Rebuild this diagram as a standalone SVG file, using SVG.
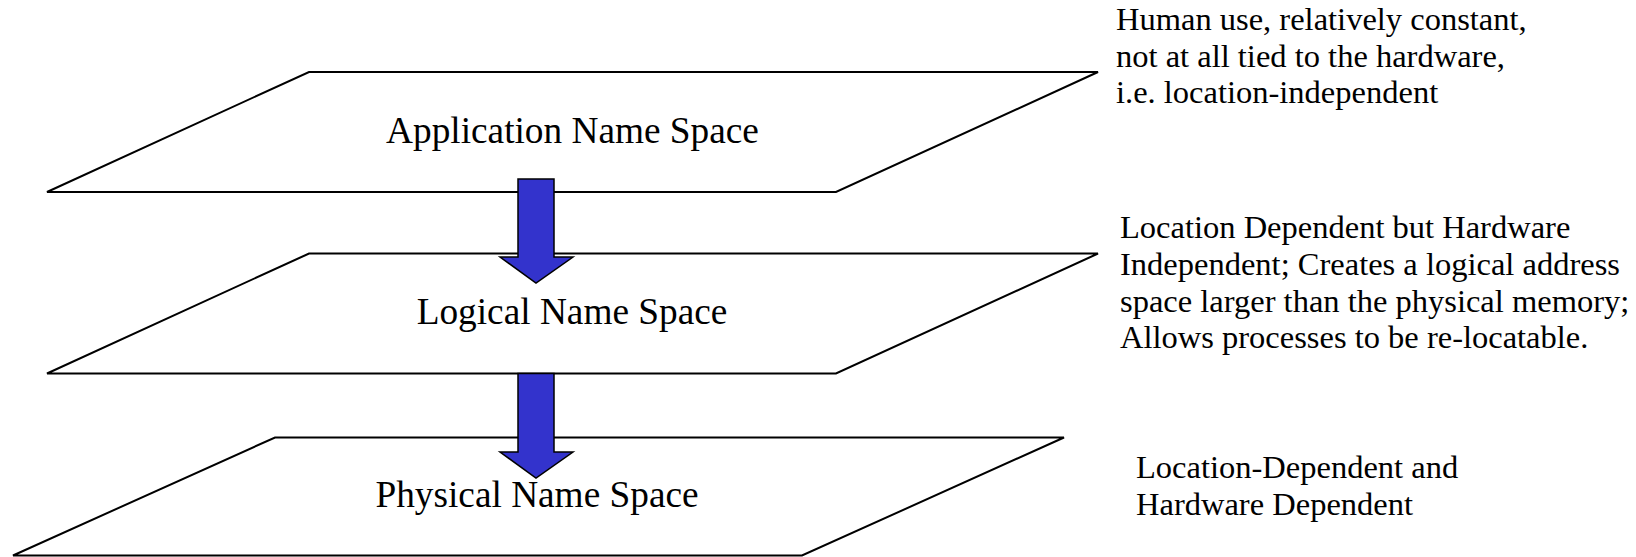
<svg xmlns="http://www.w3.org/2000/svg" width="1636" height="557" viewBox="0 0 1636 557">
<style>
.plane{fill:#ffffff;stroke:#000000;stroke-width:2;stroke-linejoin:miter}
.arrow{fill:#3333cc;stroke:#000000;stroke-width:1.5;stroke-linejoin:miter}
.name{font-family:"Liberation Serif","Times New Roman",serif;font-size:37.3px;fill:#000000;text-anchor:middle}
.note{font-family:"Liberation Serif","Times New Roman",serif;font-size:32.5px;fill:#000000}
</style>
<rect x="0" y="0" width="1636" height="557" fill="#ffffff"/>
<g id="node-application">
<polygon class="plane" points="309,72 1098,72 836,192 47,192"/>
<text class="name" x="572.5" y="143">Application Name Space</text>
</g>
<g id="node-logical">
<polygon class="plane" points="309,253.5 1098,253.5 836,373.5 47,373.5"/>
<text class="name" x="572" y="324">Logical Name Space</text>
</g>
<g id="node-physical">
<polygon class="plane" points="275,437.5 1064,437.5 802,555.5 13,555.5"/>
<text class="name" x="537" y="507">Physical Name Space</text>
</g>
<g id="connectors">
<polygon class="arrow" points="518,179 554,179 554,257 573,257 536,283 500,257 518,257"/>
<polygon class="arrow" points="518,373.5 554,373.5 554,452 573,452 536,478 500,452 518,452"/>
</g>
<g id="note-application">
<text class="note" x="1116" y="30">Human use, relatively constant,</text>
<text class="note" x="1116" y="66.5">not at all tied to the hardware,</text>
<text class="note" x="1116" y="103">i.e. location-independent</text>
</g>
<g id="note-logical">
<text class="note" x="1120" y="238">Location Dependent but Hardware</text>
<text class="note" x="1120" y="275">Independent; Creates a logical address</text>
<text class="note" x="1120" y="311.5">space larger than the physical memory;</text>
<text class="note" x="1120" y="348">Allows processes to be re-locatable.</text>
</g>
<g id="note-physical">
<text class="note" x="1136" y="478">Location-Dependent and</text>
<text class="note" x="1136" y="515">Hardware Dependent</text>
</g>
</svg>
